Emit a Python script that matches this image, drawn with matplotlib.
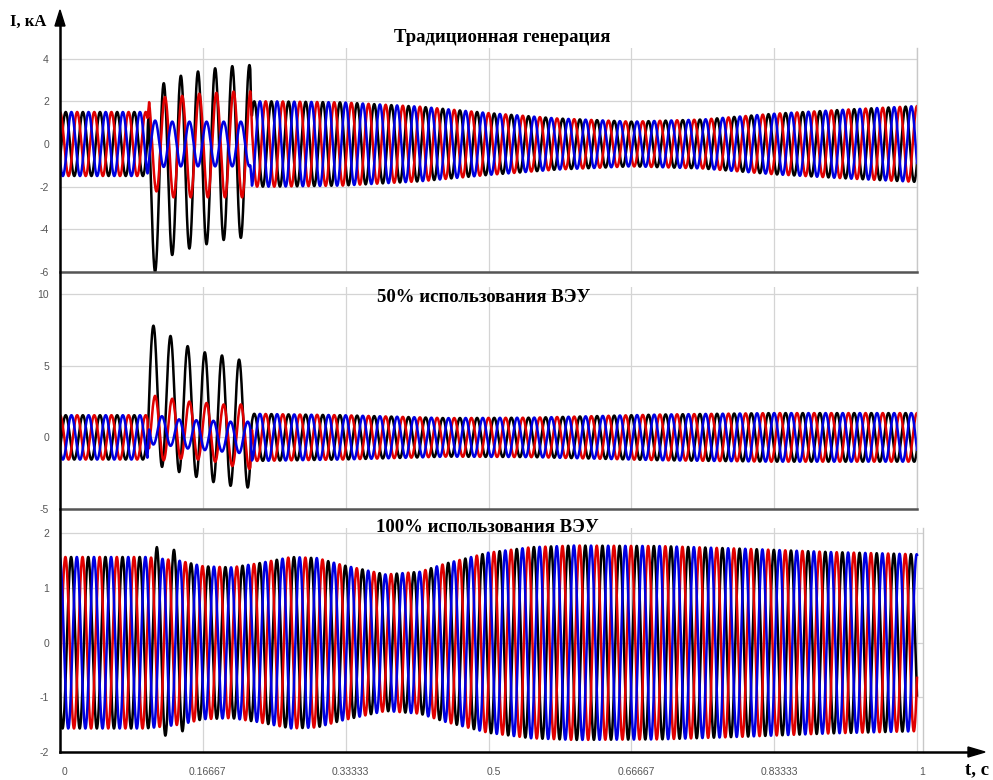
import matplotlib
matplotlib.use('Agg')
import matplotlib.pyplot as plt
import numpy as np
from matplotlib.transforms import ScaledTranslation

plt.rcParams['axes.unicode_minus'] = False

# --- data (kA, s) ---
FREQ = 50.0
T_FAULT = 0.102
T_CLEAR = 0.224

# envelope of the normal 3-phase current, per panel
env_t1 = [0.0, 0.10, 0.225, 0.25, 0.33, 0.42, 0.50, 0.58, 0.667, 0.75, 0.833, 0.92, 1.0]
env_a1 = [1.5, 1.5, 2.0, 2.0, 1.95, 1.75, 1.45, 1.2, 1.05, 1.15, 1.42, 1.62, 1.78]

env_t2 = [0.0, 0.10, 0.225, 0.33, 0.45, 0.55, 0.70, 0.83, 1.0]
env_a2 = [1.55, 1.55, 1.65, 1.55, 1.35, 1.38, 1.6, 1.7, 1.7]

env_t3 = [0.0, 0.10, 0.14, 0.167, 0.20, 0.23, 0.27, 0.30, 0.33, 0.38, 0.42, 0.45,
          0.50, 0.55, 0.60, 0.70, 0.80, 0.90, 1.0]
env_a3 = [1.57, 1.57, 1.5, 1.4, 1.38, 1.45, 1.57, 1.55, 1.42, 1.25, 1.3, 1.45,
          1.65, 1.75, 1.78, 1.77, 1.72, 1.66, 1.62]

# black phase overshoot on the 100 % panel during the fault
bump_t3 = [0.104, 0.113, 0.123, 0.133, 0.143, 0.152]
bump_a3 = [1.57, 1.75, 1.70, 1.70, 1.62, 1.45]

# time of a red-phase crest in normal operation, per panel
t_ref = [0.100, 0.100, 0.1063]

# fault period: one value per cycle (offset and amplitude of each phase)
fault_cycle_t = [0.111, 0.131, 0.151, 0.171, 0.191, 0.211]

blk_dc1 = [-1.7, -1.05, -0.8, -0.6, -0.45, -0.35]
blk_amp1 = [4.3, 4.15, 4.1, 4.1, 4.05, 4.05]
red_dc1 = [0.0, -0.15, -0.1, -0.05, -0.05, 0.0]
red_amp1 = [2.2, 2.35, 2.4, 2.45, 2.45, 2.5]
blu_dc1 = [0.0, 0.0, 0.0, 0.0, 0.0, 0.0]
blu_amp1 = [1.1, 1.05, 1.05, 1.05, 1.05, 1.05]

blk_dc2 = [2.95, 2.35, 1.85, 1.45, 1.2, 0.95]
blk_amp2 = [4.85, 4.65, 4.45, 4.45, 4.5, 4.45]
red_dc2 = [0.6, 0.6, 0.5, 0.4, 0.25, 0.05]
red_amp2 = [2.3, 2.1, 2.0, 2.0, 2.05, 2.25]
blu_dc2 = [0.55, 0.35, 0.2, 0.15, 0.05, 0.0]
blu_amp2 = [1.05, 0.95, 1.0, 1.05, 1.05, 1.1]

# crest time of the black phase during the fault
fault_t0 = [0.121, 0.109]

titles = ['Традиционная генерация', '50% использования ВЭУ', '100% использования ВЭУ']
ylims = [(-6, 4.5), (-5, 10.5), (-2, 2.1)]
yticks = [[-6, -4, -2, 0, 2, 4], [-5, 0, 5, 10], [-2, -1, 0, 1, 2]]
xticks = [0, 1 / 6, 2 / 6, 3 / 6, 4 / 6, 5 / 6, 1]
xtick_labels = ['0', '0.16667', '0.33333', '0.5', '0.66667', '0.83333', '1']

BLACK = '#000000'
RED = '#e00000'
BLUE = '#0000e0'

W = 2 * np.pi * FREQ
t = np.linspace(0, 1, 20001)


def normal_wave(env, ref, shift, amp=None):
    if amp is None:
        amp = np.interp(t, env[0], env[1])
    return amp * np.cos(W * (t - ref) + shift)


def fault_wave(t0, dc, amp, shift):
    d = np.interp(t, fault_cycle_t, dc)
    a = np.interp(t, fault_cycle_t, amp)
    return d + a * np.cos(W * (t - t0) + shift)


blend = np.clip((t - T_FAULT) / 0.002, 0, 1) * np.clip((T_CLEAR - t) / 0.002, 0, 1)

envs = [(env_t1, env_a1), (env_t2, env_a2), (env_t3, env_a3)]
faults = [
    [(blk_dc1, blk_amp1, 0.0), (red_dc1, red_amp1, -0.47), (blu_dc1, blu_amp1, np.pi)],
    [(blk_dc2, blk_amp2, 0.0), (red_dc2, red_amp2, -0.63), (blu_dc2, blu_amp2, np.pi)],
    None,
]

fig = plt.figure(figsize=(9.93, 7.8), dpi=100)
H = 780.0
Wd = 993.0
boxes = [(60, 917, 48, 272), (60, 917, 287, 509), (60, 923, 528, 752)]

for i in range(3):
    l, r, top, bot = boxes[i]
    ax = fig.add_axes([l / Wd, 1 - bot / H, (r - l) / Wd, (bot - top) / H])
    env = envs[i]
    shifts = [-2 * np.pi / 3, 0.0, 2 * np.pi / 3]
    waves = []
    for k in range(3):
        amp = None
        if i == 2 and k == 0:
            amp = np.maximum(np.interp(t, env[0], env[1]),
                             np.interp(t, bump_t3, bump_a3, left=0, right=0))
        y = normal_wave(env, t_ref[i], shifts[k], amp)
        if faults[i] is not None:
            dc, a, sh = faults[i][k]
            y = (1 - blend) * y + blend * fault_wave(fault_t0[i], dc, a, sh)
        waves.append(y)
    for y, c in zip(waves, [BLACK, RED, BLUE]):
        ax.plot(t, y, color=c, lw=1.8, solid_joinstyle='round')

    xmax = 1.0 if i < 2 else 1.0 + 6 / 857
    ax.set_xlim(0, xmax)
    ax.set_ylim(*ylims[i])
    ax.set_yticks(yticks[i])
    ax.set_xticks(xticks)
    ax.grid(True, color='#d4d4d4', lw=0.9)
    ax.set_axisbelow(True)
    ax.tick_params(length=0, labelsize=7.5, labelcolor='#555555', pad=8)
    for lab in ax.get_yticklabels():
        lab.set_family('Liberation Sans')
    if i < 2:
        ax.set_xticklabels([])
        ax.spines['bottom'].set_color('#555555')
        ax.spines['bottom'].set_linewidth(1.8)
    else:
        ax.set_xticklabels(xtick_labels, family='Liberation Sans')
        ax.tick_params(axis='x', pad=11)
        off = ScaledTranslation(5 / 100, 0, fig.dpi_scale_trans)
        for lab in ax.get_xticklabels():
            lab.set_transform(lab.get_transform() + off)
        ax.spines['bottom'].set_visible(False)
    ax.spines['top'].set_visible(False)
    ax.spines['left'].set_visible(False)
    ax.spines['right'].set_color('#c8c8c8')
    ax.spines['right'].set_linewidth(1.0)

# titles
title_pos = [(502, 38), (484, 298), (487, 527)]
for (x, y), s in zip(title_pos, titles):
    fig.text(x / Wd, 1 - y / H, s, ha='center', va='center', fontsize=13.5,
             fontweight='bold', family='Liberation Serif')

# coordinate axes with arrows
fig.add_artist(plt.Line2D([60 / Wd, 60 / Wd], [1 - 752 / H, 1 - 20 / H], color='black', lw=1.8))
fig.add_artist(plt.Line2D([60 / Wd, 975 / Wd], [1 - 752 / H, 1 - 752 / H], color='black', lw=1.8))
fig.patches.append(plt.Polygon([[55 / Wd, 1 - 26 / H], [65 / Wd, 1 - 26 / H], [60 / Wd, 1 - 10 / H]],
                               closed=True, color='black', transform=fig.transFigure))
fig.patches.append(plt.Polygon([[968 / Wd, 1 - 747 / H], [968 / Wd, 1 - 757 / H], [985 / Wd, 1 - 752 / H]],
                               closed=True, color='black', transform=fig.transFigure))
fig.text(10 / Wd, 1 - 22 / H, 'I, кА', ha='left', va='center', fontsize=12,
         fontweight='bold', family='Liberation Serif')
fig.text(965 / Wd, 1 - 770 / H, 't, c', ha='left', va='center', fontsize=13.5,
         fontweight='bold', family='Liberation Serif')

fig.savefig('out.png', dpi=100)
